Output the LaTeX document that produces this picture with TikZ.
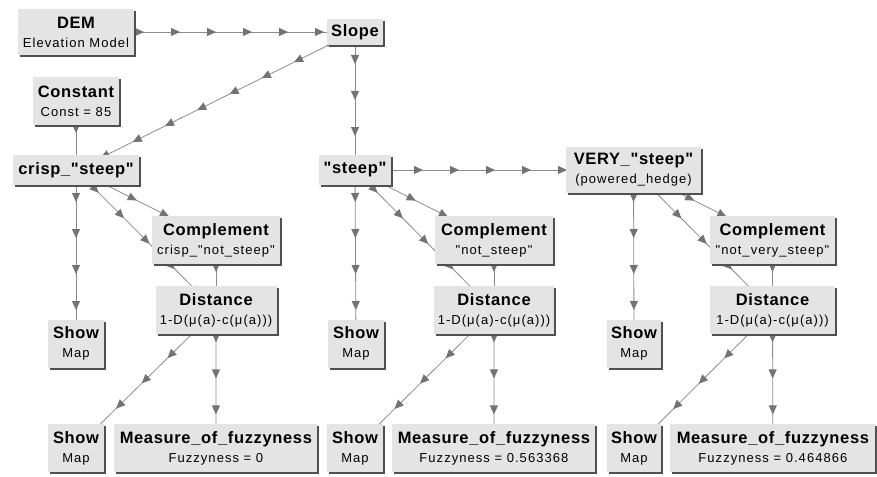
\documentclass[tikz,border=0pt]{standalone}
\usepackage{fontspec}
\setmainfont{Liberation Sans}
\newfontfamily\titlefont{Liberation Sans}[LetterSpace=4]
\newfontfamily\subfont{Liberation Sans}[LetterSpace=8]
\usepackage{xcolor}
\usetikzlibrary{arrows.meta, positioning, shadows, backgrounds, decorations.markings}

\definecolor{boxgray}{HTML}{E4E4E4}
\definecolor{shadegray}{HTML}{505050}
\definecolor{wiregray}{HTML}{8C8C8C}
\definecolor{tipgray}{HTML}{737373}

\newcommand{\boxhead}[1]{{\titlefont\bfseries\fontsize{16.5}{18}\selectfont #1}}
\newcommand{\boxlabel}[2]{\boxhead{#1}\\#2}

\begin{document}
\begin{tikzpicture}[
    x=1pt, y=-1pt,
    op/.style={rectangle, fill=boxgray, inner sep=0pt, align=center, minimum height=48pt,
        font=\subfont\fontsize{13}{19}\selectfont,
        drop shadow={shadow xshift=2pt, shadow yshift=-2pt, fill=shadegray, opacity=1}},
    slim/.style={op, minimum height=30pt},
    flow/.style={draw=wiregray, line width=0.8pt, postaction={decorate},
        decoration={markings, mark=between positions 32pt and 1 step 36pt with
            {\arrow{Triangle[length=9pt, width=8pt, color=tipgray]}}}}
]
    \useasboundingbox (0,0) rectangle (877,476);

    % Nodes
    \node (dem) [op, minimum width=116pt, minimum height=46pt] at (76,32) {\boxlabel{DEM}{Elevation Model}};
    \node (slope) [slim, minimum width=56pt, minimum height=26pt] at (355,32) {\boxhead{Slope}};
    \node (const) [op, minimum width=86pt] at (76,101) {\boxlabel{Constant}{Const = 85}};

    % crisp branch
    \node (crisp) [slim, minimum width=126pt] at (76,170) {\boxhead{crisp\_"steep"}};
    \node (compL) [op, minimum width=128pt] at (216,240) {\boxlabel{Complement}{crisp\_"not\_steep"}};
    \node (distL) [op, minimum width=121pt, below=22pt of compL] {\boxlabel{Distance}{1-D(μ(a)-c(μ(a)))}};
    \node (showL) [op, minimum width=56pt] at (76,343.5) {\boxlabel{Show}{Map}};
    \node (showLb) [op, minimum width=56pt] at (76,448) {\boxlabel{Show}{Map}};
    \node (measL) [op, minimum width=203pt, right=10pt of showLb] {\boxlabel{Measure\_of\_fuzzyness}{Fuzzyness = 0}};

    % fuzzy branch
    \node (steep) [slim, minimum width=72pt] at (355,170) {\boxhead{"steep"}};
    \node (compM) [op, minimum width=118pt] at (494,240) {\boxlabel{Complement}{"not\_steep"}};
    \node (distM) [op, minimum width=120pt, below=22pt of compM] {\boxlabel{Distance}{1-D(μ(a)-c(μ(a)))}};
    \node (showM) [op, minimum width=56pt] at (356,343.5) {\boxlabel{Show}{Map}};
    \node (showMb) [op, minimum width=56pt] at (355,448) {\boxlabel{Show}{Map}};
    \node (measM) [op, minimum width=203pt, right=9pt of showMb] {\boxlabel{Measure\_of\_fuzzyness}{Fuzzyness = 0.563368}};

    % hedge branch
    \node (very) [op, minimum width=135pt, minimum height=46pt] at (633.5,170) {\boxlabel{VERY\_"steep"}{(powered\_hedge)}};
    \node (compR) [op, minimum width=125pt] at (772.5,240) {\boxlabel{Complement}{"not\_very\_steep"}};
    \node (distR) [op, minimum width=125pt, below=22pt of compR] {\boxlabel{Distance}{1-D(μ(a)-c(μ(a)))}};
    \node (showR) [op, minimum width=54pt] at (634,343.5) {\boxlabel{Show}{Map}};
    \node (showRb) [op, minimum width=54pt] at (634,448) {\boxlabel{Show}{Map}};
    \node (measR) [op, minimum width=205pt, right=9pt of showRb] {\boxlabel{Measure\_of\_fuzzyness}{Fuzzyness = 0.464866}};

    % Arrows
    \begin{scope}[on background layer]
        \draw [flow] (dem.center) -- (slope.center);
        \draw [flow] (slope.center) -- (crisp.center);
        \draw [flow] (slope.center) -- (steep.center);
        \draw [flow] (const.center) -- (crisp.center);

        \draw [flow] (crisp.center) -- (showL.center);
        \draw [flow] (crisp.center) -- (compL.center);
        \draw [flow] (crisp.center) -- (distL.center);
        \draw [flow] (compL.center) -- (distL.center);
        \draw [flow] (distL.center) -- (showLb.center);
        \draw [flow] (distL.center) -- (measL.center);

        \draw [flow] (steep.center) -- (very.center);
        \draw [flow] (steep.center) -- (showM.center);
        \draw [flow] (steep.center) -- (compM.center);
        \draw [flow] (steep.center) -- (distM.center);
        \draw [flow] (compM.center) -- (distM.center);
        \draw [flow] (distM.center) -- (showMb.center);
        \draw [flow] (distM.center) -- (measM.center);

        \draw [flow] (very.center) -- (showR.center);
        \draw [flow] (very.center) -- (compR.center);
        \draw [flow] (very.center) -- (distR.center);
        \draw [flow] (compR.center) -- (distR.center);
        \draw [flow] (distR.center) -- (showRb.center);
        \draw [flow] (distR.center) -- (measR.center);
    \end{scope}
\end{tikzpicture}
\end{document}
